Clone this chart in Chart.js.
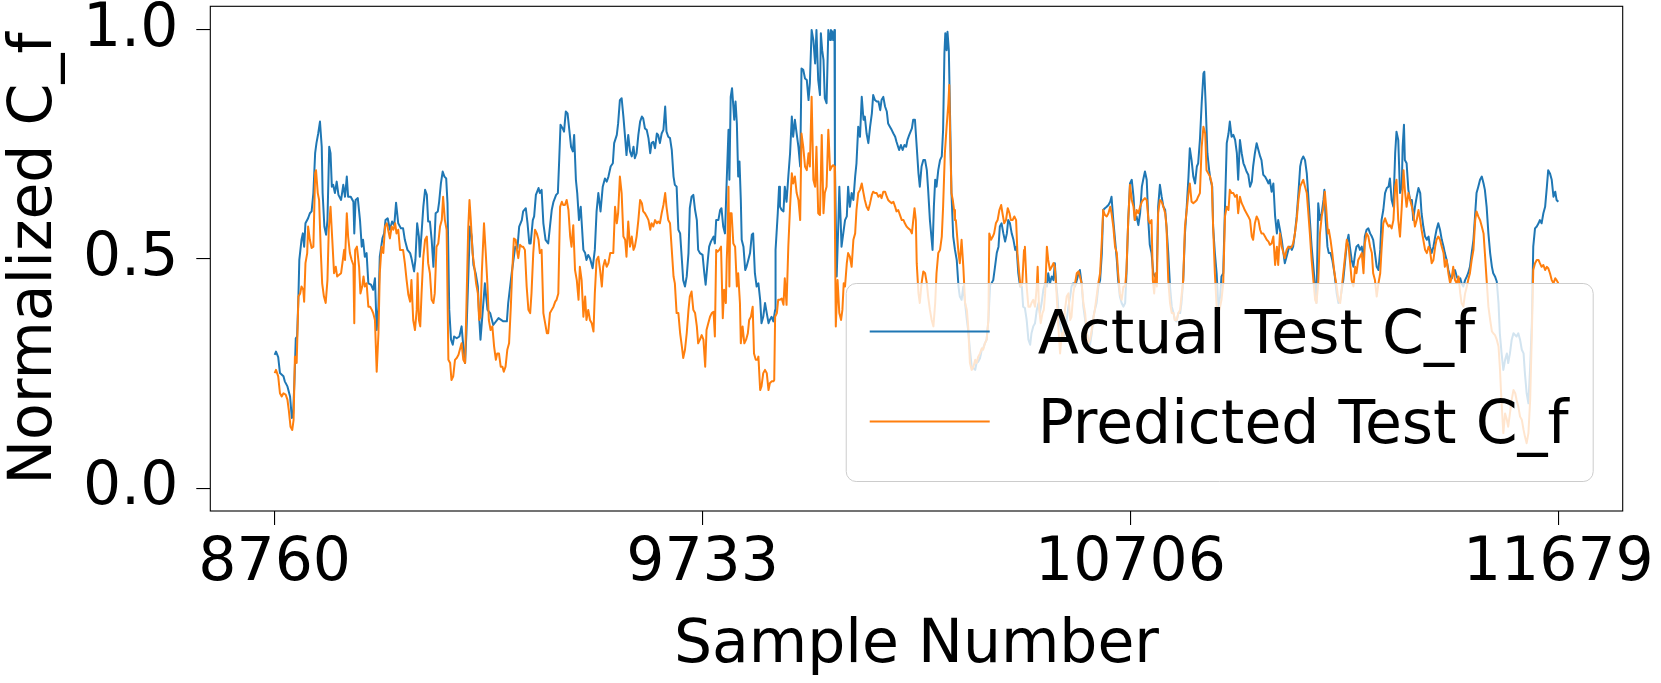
<!DOCTYPE html>
<html>
<head>
<meta charset="utf-8">
<title>Normalized C_f</title>
<script src="https://cdn.jsdelivr.net/npm/chart.js@4.4.1/dist/chart.umd.min.js"></script>
<style>
  html, body { margin: 0; padding: 0; background: #fff; }
  canvas { display: block; }
</style>
</head>
<body>
<canvas id="chart" width="1661" height="683"></canvas>
<script>
// [sample number, normalized C_f]
const actualCf = [
  [8760,.291],[8763,.298],[8768,.286],[8772,.251],[8780,.244],[8783,.233],[8789,.222],[8795,.200],[8799,.153],[8802,.163],[8805,.236],[8808,.327],[8811,.331],[8814,.418],[8816,.498],[8821,.542],[8824,.556],[8827,.527],[8830,.578],[8836,.589],[8840,.600],[8844,.604],[8848,.644],[8852,.731],[8855,.753],[8859,.774],[8863,.800],[8867,.745],[8869,.644],[8873,.571],[8877,.553],[8880,.585],[8884,.745],[8887,.731],[8890,.658],[8893,.662],[8897,.644],[8901,.669],[8905,.640],[8911,.629],[8916,.662],[8920,.636],[8924,.680],[8927,.636],[8933,.636],[8939,.625],[8941,.556],[8944,.629],[8949,.633],[8954,.585],[8958,.527],[8961,.542],[8965,.505],[8969,.513],[8973,.447],[8979,.444],[8984,.433],[8988,.458],[8992,.345],[8996,.396],[8999,.505],[9005,.545],[9009,.556],[9012,.585],[9017,.589],[9022,.564],[9027,.582],[9032,.574],[9036,.623],[9041,.578],[9047,.567],[9052,.567],[9056,.542],[9062,.520],[9068,.513],[9071,.502],[9077,.473],[9080,.498],[9084,.578],[9088,.549],[9090,.505],[9094,.556],[9098,.614],[9102,.651],[9106,.640],[9109,.582],[9113,.582],[9117,.542],[9121,.483],[9126,.600],[9131,.604],[9134,.625],[9138,.665],[9142,.691],[9146,.680],[9150,.676],[9153,.622],[9157,.389],[9161,.324],[9165,.313],[9168,.331],[9174,.327],[9180,.331],[9185,.353],[9189,.309],[9193,.273],[9196,.338],[9200,.454],[9204,.571],[9208,.549],[9212,.487],[9217,.469],[9222,.440],[9225,.374],
  [9228,.324],[9238,.447],[9244,.389],[9250,.382],[9257,.356],[9269,.371],[9280,.364],[9288,.364],[9291,.404],[9299,.469],[9307,.527],[9312,.524],[9316,.571],[9322,.585],[9325,.604],[9331,.611],[9335,.578],[9339,.534],[9342,.534],[9347,.585],[9350,.593],[9354,.640],[9360,.655],[9363,.644],[9367,.651],[9371,.578],[9376,.542],[9382,.534],[9386,.571],[9390,.607],[9394,.625],[9400,.640],[9404,.644],[9407,.716],[9410,.793],[9415,.785],[9418,.778],[9422,.822],[9426,.818],[9430,.782],[9434,.745],[9438,.735],[9441,.771],[9445,.673],[9448,.644],[9452,.585],[9456,.614],[9458,.582],[9462,.520],[9466,.513],[9469,.498],[9473,.509],[9477,.502],[9483,.480],[9488,.520],[9492,.604],[9496,.644],[9501,.604],[9506,.658],[9511,.676],[9515,.669],[9519,.680],[9524,.702],[9529,.709],[9532,.753],[9538,.771],[9541,.796],[9545,.847],[9549,.851],[9553,.811],[9557,.764],[9560,.727],[9564,.771],[9568,.735],[9572,.724],[9576,.745],[9579,.720],[9583,.731],[9587,.771],[9591,.800],[9595,.811],[9598,.807],[9602,.785],[9606,.782],[9610,.764],[9614,.731],[9617,.753],[9621,.756],[9625,.742],[9629,.774],[9632,.771],[9636,.753],[9640,.774],[9644,.782],[9648,.833],[9651,.778],[9655,.767],[9659,.764],[9663,.738],[9667,.680],[9670,.662],[9674,.658],[9678,.564],[9682,.556],[9686,.498],[9689,.454],[9693,.440],[9697,.462],[9701,.513],[9704,.611],[9708,.636],[9712,.640],
  [9716,.607],[9720,.585],[9723,.520],[9727,.513],[9733,.509],[9737,.469],[9740,.444],[9745,.498],[9748,.527],[9752,.538],[9758,.549],[9761,.534],[9764,.585],[9769,.585],[9773,.607],[9776,.611],[9780,.571],[9784,.556],[9788,.673],[9792,.782],[9794,.673],[9797,.854],[9800,.873],[9803,.833],[9805,.804],[9808,.844],[9811,.796],[9814,.680],[9817,.713],[9820,.629],[9822,.542],[9826,.527],[9830,.476],[9833,.483],[9837,.498],[9841,.513],[9845,.553],[9848,.556],[9852,.469],[9856,.440],[9860,.447],[9864,.411],[9867,.360],[9871,.374],[9875,.404],[9879,.382],[9883,.360],[9886,.367],[9890,.374],[9894,.364],[9898,.389],[9899,.520],[9904,.600],[9907,.658],[9909,.614],[9913,.607],[9917,.604],[9920,.658],[9924,.625],[9928,.680],[9932,.731],[9936,.811],[9939,.767],[9943,.804],[9947,.774],[9951,.745],[9955,.702],[9958,.916],[9962,.913],[9966,.894],[9970,.891],[9974,.847],[9977,.884],[9981,1.000],[9985,.978],[9989,.927],[9992,1.000],[9996,.891],[10000,.858],[10002,.993],[10005,.956],[10008,.935],[10011,.851],[10015,.840],[10019,1.000],[10023,.978],[10025,1.000],[10028,.996],[10030,.978],[10033,1.000],[10034,.709],[10038,.462],[10042,.585],[10044,.658],[10047,.585],[10049,.527],[10053,.556],[10057,.585],[10061,.593],[10064,.658],[10068,.614],[10072,.644],[10076,.629],[10080,.680],[10083,.709],[10087,.789],[10091,.767],[10095,.854],[10099,.804],[10102,.811],[10106,.774],[10110,.753],[10114,.789],[10118,.818],[10121,.858],[10125,.847],[10129,.844],[10133,.844],[10137,.825],[10140,.847],[10144,.854],[10148,.833],[10152,.822],[10155,.796],[10159,.789],[10163,.782],[10167,.774],[10171,.767],[10174,.756],[10180,.738],[10184,.749],[10188,.738],[10192,.749],[10196,.745],[10199,.760],[10203,.771],
  [10209,.785],[10212,.804],[10216,.804],[10220,.745],[10224,.687],[10227,.658],[10231,.702],[10235,.716],[10239,.716],[10243,.694],[10246,.651],[10250,.585],[10254,.542],[10256,.520],[10259,.614],[10262,.673],[10265,.658],[10269,.694],[10273,.716],[10277,.724],[10280,.782],[10283,.949],[10285,.993],[10288,.956],[10290,.996],[10293,.956],[10296,.804],[10299,.644],[10303,.549],[10307,.520],[10311,.498],[10315,.440],[10318,.418],[10322,.411],[10326,.440],[10330,.404],[10334,.367],[10337,.345],[10341,.302],[10345,.265],[10349,.262],[10353,.258],[10356,.273],[10360,.276],[10364,.284],[10368,.302],[10371,.305],[10375,.316],[10379,.324],[10383,.367],[10387,.444],[10390,.447],[10394,.454],[10398,.483],[10402,.513],[10406,.527],[10409,.571],[10413,.578],[10417,.556],[10421,.538],[10425,.556],[10428,.585],[10432,.578],[10436,.556],[10440,.542],[10444,.520],[10447,.527],[10451,.469],[10455,.440],[10459,.440],[10462,.396],[10466,.393],[10470,.367],[10474,.324],[10478,.313],[10481,.338],[10485,.353],[10489,.360],[10493,.389],[10497,.404],[10500,.382],[10504,.404],[10508,.433],[10512,.447],[10516,.440],[10519,.469],[10523,.447],[10527,.462],[10531,.454],[10534,.491],[10537,.447],[10540,.418],[10544,.367],[10550,.338],[10553,.324],[10557,.345],[10561,.367],[10565,.396],[10569,.418],[10572,.440],[10576,.447],[10580,.440],[10584,.454],[10588,.469],[10591,.476],[10595,.447],[10599,.396],[10603,.367],[10606,.345],[10610,.324],[10614,.313],[10618,.338],[10622,.374],[10625,.389],[10629,.404],[10633,.440],[10637,.454],[10641,.513],[10644,.607],[10648,.611],[10652,.614],[10656,.618],[10660,.625],[10663,.636],[10667,.585],[10671,.542],[10675,.498],[10678,.454],[10682,.418],[10686,.404],[10690,.396],
  [10694,.404],[10697,.469],[10701,.585],[10705,.665],[10709,.673],[10713,.636],[10716,.585],[10720,.593],[10724,.574],[10728,.600],[10732,.658],[10735,.673],[10739,.691],[10743,.673],[10747,.578],[10750,.531],[10754,.513],[10758,.469],[10762,.462],[10766,.469],[10769,.614],[10773,.662],[10777,.636],[10781,.614],[10785,.607],[10788,.571],[10792,.513],[10796,.440],[10800,.396],[10804,.382],[10807,.367],[10811,.364],[10815,.382],[10819,.382],[10822,.404],[10826,.454],[10830,.556],[10834,.614],[10838,.680],[10841,.742],[10845,.716],[10849,.680],[10853,.665],[10857,.702],[10860,.709],[10864,.760],[10868,.840],[10872,.905],[10874,.909],[10877,.840],[10881,.731],[10885,.694],[10888,.673],[10892,.658],[10894,.571],[10898,.513],[10902,.469],[10906,.396],[10910,.418],[10913,.462],[10917,.469],[10921,.614],[10925,.753],[10929,.774],[10932,.800],[10936,.767],[10940,.771],[10944,.760],[10948,.731],[10951,.673],[10955,.760],[10959,.731],[10963,.709],[10966,.702],[10970,.691],[10974,.684],[10978,.658],[10982,.669],[10985,.702],[10989,.731],[10993,.753],[10997,.738],[11001,.724],[11004,.716],[11008,.684],[11012,.680],[11016,.673],[11020,.665],[11023,.673],[11027,.647],[11031,.665],[11035,.593],[11039,.556],[11042,.585],[11046,.564],[11050,.542],[11054,.513],[11057,.491],[11061,.505],[11065,.520],[11069,.527],[11073,.520],[11076,.527],[11080,.556],[11084,.593],[11088,.644],[11092,.702],[11095,.716],[11099,.724],[11103,.716],[11107,.687],[11110,.644],[11114,.585],[11118,.527],[11122,.483],[11126,.440],[11129,.404],[11133,.622],[11137,.585],[11141,.600],[11145,.629],[11147,.651],[11150,.585],[11154,.527],[11157,.513],[11161,.513],[11165,.498],[11170,.469],[11175,.425],[11179,.404],
  [11183,.411],[11190,.454],[11198,.534],[11202,.553],[11205,.527],[11209,.498],[11213,.483],[11217,.513],[11220,.527],[11224,.531],[11228,.520],[11232,.527],[11236,.498],[11239,.549],[11243,.564],[11247,.567],[11251,.556],[11255,.549],[11258,.542],[11262,.513],[11266,.483],[11270,.476],[11274,.520],[11277,.585],[11281,.607],[11285,.644],[11289,.655],[11293,.658],[11296,.676],[11300,.629],[11304,.614],[11308,.731],[11311,.778],[11315,.760],[11319,.644],[11323,.658],[11325,.745],[11328,.793],[11330,.716],[11334,.709],[11338,.651],[11342,.629],[11346,.629],[11349,.585],[11353,.614],[11357,.636],[11361,.655],[11365,.644],[11368,.600],[11372,.571],[11376,.549],[11380,.542],[11384,.549],[11387,.527],[11391,.513],[11395,.527],[11399,.549],[11402,.564],[11406,.578],[11410,.564],[11414,.542],[11418,.527],[11421,.513],[11425,.498],[11429,.476],[11433,.462],[11437,.458],[11440,.469],[11444,.476],[11448,.462],[11452,.454],[11456,.458],[11459,.447],[11463,.440],[11467,.454],[11471,.462],[11474,.469],[11478,.483],[11482,.513],[11486,.542],[11490,.600],[11493,.644],[11497,.658],[11501,.673],[11505,.680],[11509,.665],[11512,.651],[11516,.614],[11520,.556],[11524,.513],[11528,.483],[11531,.469],[11535,.462],[11539,.451],[11543,.404],[11546,.338],[11550,.294],[11554,.258],[11558,.280],[11562,.294],[11565,.273],[11569,.294],[11573,.324],[11577,.338],[11581,.334],[11584,.331],[11588,.338],[11592,.324],[11596,.302],[11600,.294],[11603,.251],[11607,.207],[11611,.185],[11615,.265],[11619,.367],[11622,.527],[11626,.567],[11630,.571],[11634,.578],[11637,.585],[11641,.578],[11645,.600],[11649,.614],[11653,.658],[11656,.694],[11660,.687],[11664,.673],[11668,.636],[11672,.647],[11675,.629],[11679,.625]
];

const predictedCf = [
  [8760,.251],[8763,.258],[8768,.244],[8772,.207],[8776,.200],[8780,.207],[8785,.204],[8789,.193],[8792,.171],[8796,.134],[8800,.127],[8803,.149],[8806,.287],[8810,.273],[8814,.418],[8818,.425],[8821,.440],[8825,.433],[8827,.407],[8830,.491],[8834,.513],[8836,.571],[8840,.542],[8844,.524],[8848,.527],[8852,.687],[8854,.694],[8858,.644],[8861,.629],[8865,.513],[8868,.447],[8872,.418],[8876,.404],[8880,.454],[8883,.564],[8887,.614],[8891,.542],[8895,.469],[8899,.483],[8902,.462],[8906,.465],[8911,.469],[8915,.498],[8918,.520],[8920,.498],[8924,.600],[8927,.549],[8931,.513],[8935,.498],[8939,.487],[8941,.360],[8943,.520],[8947,.527],[8952,.483],[8955,.425],[8959,.440],[8962,.462],[8965,.440],[8969,.447],[8973,.396],[8977,.396],[8981,.389],[8984,.382],[8988,.367],[8992,.254],[8996,.338],[8999,.469],[9003,.527],[9007,.513],[9011,.571],[9015,.578],[9018,.564],[9022,.545],[9026,.571],[9030,.564],[9034,.578],[9037,.556],[9041,.564],[9045,.520],[9049,.520],[9052,.520],[9056,.491],[9060,.454],[9064,.422],[9068,.407],[9071,.454],[9075,.367],[9079,.345],[9083,.389],[9085,.469],[9088,.367],[9091,.353],[9094,.425],[9098,.505],[9102,.542],[9106,.549],[9109,.491],[9113,.469],[9117,.411],[9121,.404],[9124,.425],[9128,.527],[9132,.534],[9136,.571],[9140,.585],[9143,.636],[9147,.585],[9151,.564],[9155,.280],[9159,.273],[9162,.236],[9166,.244],[9170,.280],[9174,.284],[9178,.291],[9181,.302],[9185,.316],[9189,.280],[9193,.273],[9196,.396],[9200,.564],[9203,.629],[9206,.585],[9210,.513],[9214,.483],[9218,.447],[9222,.425],[9225,.367],
  [9228,.374],[9231,.469],[9236,.578],[9240,.513],[9244,.440],[9247,.367],[9251,.345],[9255,.353],[9259,.309],[9263,.280],[9266,.294],[9270,.294],[9274,.265],[9278,.265],[9281,.254],[9285,.265],[9289,.302],[9293,.316],[9297,.396],[9300,.469],[9304,.545],[9308,.542],[9312,.513],[9314,.502],[9318,.531],[9322,.527],[9325,.527],[9329,.520],[9333,.440],[9337,.389],[9341,.382],[9344,.425],[9348,.513],[9352,.564],[9356,.556],[9360,.542],[9363,.513],[9367,.520],[9371,.382],[9375,.360],[9379,.338],[9382,.338],[9386,.382],[9390,.389],[9394,.396],[9398,.407],[9401,.411],[9405,.425],[9409,.614],[9413,.625],[9416,.618],[9420,.618],[9424,.629],[9428,.607],[9432,.549],[9435,.527],[9439,.574],[9443,.476],[9447,.454],[9451,.411],[9454,.483],[9458,.454],[9462,.374],[9466,.418],[9469,.367],[9473,.389],[9477,.367],[9481,.360],[9485,.342],[9488,.425],[9492,.498],[9496,.505],[9500,.476],[9504,.440],[9507,.483],[9511,.498],[9515,.483],[9519,.491],[9523,.513],[9526,.513],[9530,.513],[9534,.614],[9538,.578],[9541,.600],[9545,.680],[9549,.644],[9553,.549],[9557,.542],[9560,.505],[9564,.582],[9568,.527],[9572,.549],[9576,.520],[9579,.527],[9583,.549],[9587,.585],[9591,.629],[9595,.622],[9598,.604],[9602,.600],[9606,.593],[9610,.585],[9614,.564],[9617,.578],[9621,.571],[9625,.585],[9629,.578],[9632,.582],[9636,.578],[9640,.600],[9644,.618],[9648,.644],[9651,.614],[9655,.585],[9659,.578],[9663,.520],[9667,.462],[9670,.447],[9674,.382],[9678,.382],[9682,.338],[9686,.309],[9689,.284],[9693,.302],[9697,.338],[9701,.389],[9704,.418],[9708,.429],[9712,.389],
  [9716,.382],[9720,.353],[9723,.316],[9727,.324],[9731,.334],[9735,.324],[9739,.265],[9742,.345],[9746,.360],[9750,.374],[9754,.382],[9758,.385],[9761,.331],[9764,.520],[9767,.516],[9771,.520],[9775,.527],[9779,.371],[9782,.433],[9786,.404],[9788,.498],[9790,.549],[9792,.658],[9794,.440],[9796,.600],[9799,.600],[9803,.534],[9807,.527],[9811,.440],[9814,.469],[9818,.404],[9820,.316],[9824,.353],[9828,.316],[9832,.324],[9836,.338],[9839,.367],[9843,.374],[9847,.396],[9850,.294],[9854,.280],[9858,.280],[9860,.287],[9864,.214],[9867,.222],[9871,.251],[9875,.258],[9879,.251],[9883,.214],[9886,.229],[9890,.233],[9894,.233],[9896,.236],[9898,.374],[9902,.382],[9905,.411],[9909,.411],[9913,.414],[9917,.400],[9920,.458],[9924,.400],[9928,.527],[9932,.614],[9936,.687],[9939,.665],[9943,.680],[9947,.644],[9951,.629],[9955,.585],[9958,.774],[9962,.745],[9966,.702],[9970,.694],[9974,.731],[9977,.702],[9981,.854],[9985,.673],[9989,.658],[9992,.745],[9996,.600],[10000,.596],[10004,.771],[10008,.600],[10011,.644],[10015,.658],[10019,.782],[10023,.694],[10027,.702],[10030,.705],[10033,.702],[10034,.571],[10036,.353],[10040,.454],[10044,.382],[10048,.367],[10051,.389],[10054,.447],[10057,.440],[10061,.491],[10064,.513],[10068,.505],[10072,.483],[10076,.542],[10080,.556],[10083,.607],[10087,.644],[10091,.651],[10095,.665],[10099,.644],[10102,.629],[10106,.614],[10110,.607],[10114,.622],[10118,.640],[10121,.647],[10125,.644],[10129,.644],[10133,.636],[10137,.640],[10140,.633],[10144,.647],[10148,.647],[10152,.636],[10155,.629],[10159,.625],[10163,.622],[10167,.625],[10171,.614],[10174,.604],[10178,.607],[10182,.596],[10186,.585],[10190,.585],[10193,.578],[10197,.571],[10201,.567],
  [10205,.564],[10209,.556],[10215,.611],[10218,.585],[10220,.491],[10224,.425],[10227,.404],[10231,.447],[10235,.473],[10239,.469],[10243,.447],[10246,.418],[10250,.389],[10254,.367],[10258,.353],[10262,.404],[10265,.469],[10269,.513],[10273,.520],[10277,.549],[10280,.614],[10284,.731],[10288,.789],[10292,.840],[10294,.880],[10296,.767],[10299,.644],[10302,.629],[10305,.607],[10307,.585],[10309,.585],[10312,.549],[10315,.513],[10318,.491],[10322,.542],[10326,.483],[10330,.404],[10334,.389],[10337,.353],[10341,.273],[10345,.258],[10349,.265],[10353,.280],[10356,.273],[10360,.287],[10364,.294],[10368,.305],[10371,.302],[10375,.316],[10379,.324],[10383,.367],[10385,.556],[10389,.542],[10393,.549],[10396,.556],[10400,.578],[10404,.585],[10408,.607],[10412,.618],[10415,.600],[10419,.578],[10423,.585],[10427,.611],[10431,.600],[10434,.585],[10438,.585],[10442,.593],[10446,.585],[10449,.513],[10453,.469],[10456,.440],[10460,.447],[10464,.520],[10466,.527],[10470,.440],[10474,.396],[10478,.396],[10481,.404],[10485,.411],[10489,.396],[10493,.440],[10495,.483],[10498,.396],[10502,.360],[10506,.382],[10509,.389],[10512,.425],[10516,.527],[10519,.498],[10523,.476],[10527,.483],[10531,.491],[10534,.483],[10538,.425],[10542,.353],[10546,.294],[10550,.338],[10553,.324],[10557,.389],[10561,.418],[10565,.425],[10569,.367],[10572,.374],[10576,.425],[10580,.447],[10584,.469],[10588,.473],[10591,.462],[10595,.447],[10599,.404],[10603,.382],[10606,.345],[10610,.316],[10614,.324],[10618,.345],[10622,.374],[10625,.389],[10629,.418],[10633,.447],[10637,.469],[10641,.542],[10644,.607],[10648,.596],[10652,.593],[10656,.600],[10660,.614],[10663,.600],[10667,.571],[10671,.527],[10675,.513],[10678,.469],[10682,.425],[10686,.411],[10690,.440],
  [10694,.440],[10697,.476],[10701,.585],[10705,.662],[10709,.629],[10713,.614],[10716,.585],[10720,.607],[10724,.600],[10728,.614],[10732,.625],[10735,.629],[10739,.633],[10743,.629],[10747,.585],[10750,.578],[10754,.585],[10757,.454],[10760,.425],[10763,.469],[10766,.440],[10769,.600],[10773,.629],[10777,.625],[10781,.614],[10785,.600],[10788,.571],[10792,.454],[10796,.404],[10800,.382],[10804,.382],[10807,.367],[10811,.367],[10815,.382],[10819,.389],[10822,.418],[10826,.454],[10830,.571],[10834,.607],[10838,.644],[10841,.665],[10845,.625],[10849,.622],[10853,.625],[10857,.629],[10860,.636],[10864,.644],[10868,.745],[10872,.789],[10876,.774],[10879,.694],[10883,.687],[10887,.680],[10891,.665],[10894,.571],[10898,.469],[10902,.396],[10906,.382],[10910,.396],[10913,.411],[10917,.447],[10921,.593],[10925,.614],[10929,.607],[10932,.651],[10936,.644],[10940,.644],[10944,.636],[10948,.640],[10951,.600],[10955,.636],[10959,.622],[10963,.614],[10966,.607],[10970,.600],[10974,.593],[10978,.585],[10982,.549],[10985,.542],[10989,.578],[10993,.593],[10997,.585],[11001,.564],[11004,.556],[11008,.556],[11012,.549],[11016,.542],[11020,.538],[11023,.531],[11027,.534],[11031,.549],[11035,.487],[11039,.527],[11042,.487],[11046,.556],[11050,.527],[11054,.513],[11057,.502],[11061,.520],[11065,.527],[11069,.524],[11073,.527],[11076,.534],[11080,.556],[11084,.585],[11088,.629],[11092,.658],[11095,.665],[11099,.673],[11103,.658],[11107,.644],[11110,.607],[11114,.556],[11118,.498],[11122,.454],[11126,.411],[11129,.404],[11133,.447],[11137,.556],[11141,.593],[11145,.614],[11148,.647],[11151,.614],[11155,.556],[11157,.564],[11161,.542],[11165,.513],[11170,.469],[11175,.440],[11179,.411],
  [11183,.404],[11190,.469],[11198,.542],[11202,.527],[11205,.498],[11209,.454],[11213,.440],[11217,.483],[11220,.469],[11224,.498],[11228,.505],[11232,.513],[11236,.469],[11239,.534],[11243,.556],[11247,.549],[11251,.527],[11255,.513],[11258,.469],[11262,.454],[11266,.418],[11270,.447],[11274,.469],[11277,.520],[11281,.578],[11285,.589],[11289,.578],[11293,.571],[11296,.574],[11300,.567],[11304,.585],[11308,.658],[11311,.673],[11315,.585],[11319,.549],[11323,.614],[11327,.694],[11330,.651],[11334,.614],[11338,.644],[11342,.629],[11346,.614],[11349,.600],[11353,.571],[11357,.585],[11361,.607],[11365,.585],[11368,.564],[11372,.542],[11376,.520],[11380,.513],[11384,.527],[11387,.520],[11391,.491],[11395,.498],[11399,.527],[11402,.542],[11406,.549],[11410,.542],[11414,.527],[11418,.513],[11421,.483],[11425,.498],[11429,.469],[11433,.447],[11437,.462],[11440,.483],[11444,.454],[11448,.447],[11452,.462],[11456,.425],[11459,.404],[11463,.396],[11467,.425],[11471,.440],[11474,.454],[11478,.469],[11482,.498],[11486,.520],[11490,.585],[11493,.604],[11497,.593],[11501,.585],[11505,.571],[11509,.556],[11512,.513],[11516,.454],[11520,.396],[11524,.367],[11528,.342],[11531,.338],[11535,.334],[11539,.324],[11543,.309],[11546,.265],[11550,.185],[11554,.120],[11558,.163],[11562,.149],[11565,.134],[11569,.163],[11573,.193],[11577,.214],[11581,.207],[11584,.193],[11588,.178],[11592,.156],[11596,.149],[11600,.127],[11603,.113],[11607,.098],[11611,.120],[11615,.193],[11619,.345],[11622,.476],[11626,.491],[11630,.498],[11634,.498],[11637,.491],[11641,.483],[11645,.487],[11649,.476],[11653,.483],[11656,.480],[11660,.469],[11664,.454],[11668,.447],[11672,.458],[11675,.454],[11679,.447]
];

const xTicks = [8760, 9733, 10706, 11679];
const yTicks = [0, 0.5, 1.0];
const seriesNames = ['Actual Test C_f', 'Predicted Test C_f'];
const seriesColors = ['#1f77b4', '#ff7f0e'];

const FONT = '"DejaVu Sans", "Liberation Sans", sans-serif';

// black box round the axes, like matplotlib spines
const framePlugin = {
  id: 'frame',
  afterDatasetsDraw(chart) {
    const { ctx, chartArea: a } = chart;
    ctx.save();
    ctx.strokeStyle = '#000';
    ctx.lineWidth = 1.1;
    ctx.strokeRect(a.left, a.top, a.right - a.left, a.bottom - a.top);
    ctx.restore();
  }
};

// lower-right legend drawn over the lines with a see-through white box
const legendBoxPlugin = {
  id: 'legendBox',
  afterDatasetsDraw(chart) {
    const { ctx, chartArea: a } = chart;
    const fs = 60, pad = 24, handleLen = 120, handleGap = 48, rowH = 60, rowGap = 30;
    ctx.save();
    ctx.font = `${fs}px ${FONT}`;
    const textW = Math.max(...seriesNames.map(n => ctx.measureText(n).width));
    const w = pad + handleLen + handleGap + textW + pad;
    const h = pad * 2 + rowH * 2 + rowGap;
    const left = a.right - 30 - w, top = a.bottom - 30 - h;
    ctx.beginPath();
    ctx.roundRect(left + 0.5, top + 0.5, w, h, 10);
    ctx.fillStyle = 'rgba(255,255,255,0.8)';
    ctx.fill();
    ctx.strokeStyle = '#cccccc';
    ctx.lineWidth = 1;
    ctx.stroke();
    seriesNames.forEach((name, i) => {
      const rowTop = top + pad + i * (rowH + rowGap);
      ctx.beginPath();
      ctx.moveTo(left + pad, rowTop + 24.5);
      ctx.lineTo(left + pad + handleLen, rowTop + 24.5);
      ctx.strokeStyle = seriesColors[i];
      ctx.lineWidth = 2;
      ctx.stroke();
      ctx.fillStyle = '#000';
      ctx.textAlign = 'left';
      ctx.textBaseline = 'alphabetic';
      ctx.fillText(name, left + pad + handleLen + handleGap, rowTop + 45.5);
    });
    ctx.restore();
  }
};

const tickFont = { family: FONT, size: 60 };
const titleFont = { family: FONT, size: 60, lineHeight: 1 };
const axisGrid = { drawOnChartArea: false, drawTicks: true, tickLength: 14, color: '#000', lineWidth: 1.1 };

const toPoints = rows => rows.map(([s, v]) => ({ x: s, y: v }));

new Chart(document.getElementById('chart').getContext('2d'), {
  type: 'line',
  data: {
    datasets: [
      { label: seriesNames[0], data: toPoints(actualCf), borderColor: seriesColors[0], borderWidth: 2,
        pointRadius: 0, tension: 0, fill: false, borderJoinStyle: 'round', order: 1 },
      { label: seriesNames[1], data: toPoints(predictedCf), borderColor: seriesColors[1], borderWidth: 2,
        pointRadius: 0, tension: 0, fill: false, borderJoinStyle: 'round', order: 0 }
    ]
  },
  options: {
    responsive: false, animation: false, devicePixelRatio: 1, events: [],
    layout: { padding: { left: 0, top: 6.3, right: 38.3, bottom: 0 } },
    plugins: { legend: { display: false }, tooltip: { enabled: false } },
    scales: {
      x: {
        type: 'linear', min: 8613.6, max: 11825.4,
        afterBuildTicks: s => { s.ticks = xTicks.map(v => ({ value: v })); },
        afterFit: s => { s.height = 172; s.paddingLeft = 0; s.paddingRight = 0; },
        ticks: { font: tickFont, color: '#000', padding: 3, maxRotation: 0, minRotation: 0, autoSkip: false,
                 callback: v => String(v) },
        grid: axisGrid,
        border: { display: false },
        title: { display: true, text: 'Sample Number', font: titleFont, color: '#000', padding: { top: 0, bottom: 7 } }
      },
      y: {
        min: -0.05, max: 1.0517,
        afterBuildTicks: s => { s.ticks = yTicks.map(v => ({ value: v })); },
        afterFit: s => { s.width = 210.3; s.paddingTop = 0; s.paddingBottom = 0; },
        ticks: { font: tickFont, color: '#000', padding: 18, callback: v => v.toFixed(1) },
        grid: axisGrid,
        border: { display: false },
        title: { display: true, text: 'Normalized C_f', font: titleFont, color: '#000', padding: { top: 5, bottom: 0 } }
      }
    }
  },
  plugins: [framePlugin, legendBoxPlugin]
});
</script>
</body>
</html>
